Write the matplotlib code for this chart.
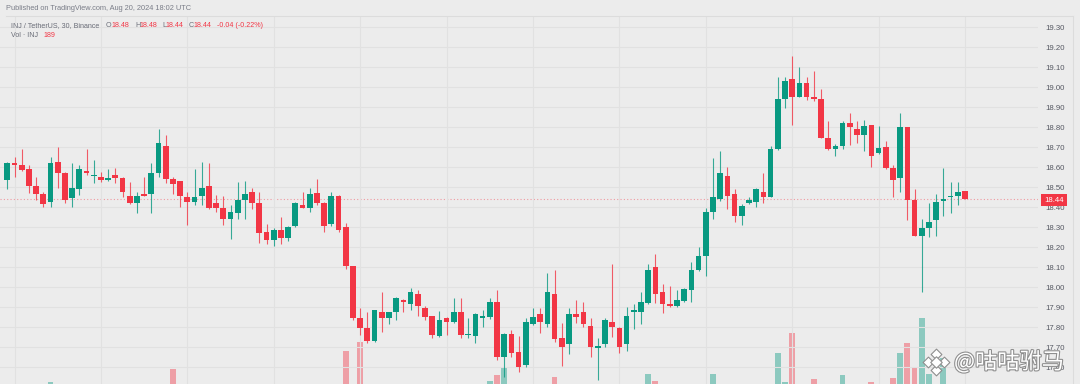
import matplotlib
matplotlib.use("Agg")
import matplotlib.pyplot as plt
import matplotlib.patheffects as pe
from matplotlib.patches import Rectangle
import numpy as np

# ---------------- data (INJ/USDT, 30m, Binance) ----------------
opens = [18.535, 18.618, 18.61, 18.588, 18.507, 18.465, 18.427, 18.627, 18.568, 18.447,
         18.488, 18.58, 18.555, 18.548, 18.537, 18.558, 18.547, 18.457, 18.418, 18.467,
         18.465, 18.568, 18.705, 18.538, 18.528, 18.448, 18.427, 18.455, 18.507, 18.418,
         18.393, 18.338, 18.368, 18.435, 18.477, 18.418, 18.277, 18.235, 18.285, 18.243,
         18.305, 18.41, 18.397, 18.468, 18.418, 18.315, 18.455, 18.298, 18.105, 17.843,
         17.793, 17.732, 17.877, 17.843, 17.877, 17.935, 17.915, 17.963, 17.893, 17.855,
         17.755, 17.843, 17.827, 17.873, 17.76, 17.755, 17.847, 17.852, 17.923, 17.652,
         17.763, 17.673, 17.61, 17.815, 17.865, 17.813, 17.963, 17.743, 17.715, 17.865,
         17.877, 17.805, 17.697, 17.713, 17.827, 17.793, 17.715, 17.877, 17.873, 17.922,
         18.098, 17.973, 17.915, 17.905, 17.932, 17.985, 18.085, 18.155, 18.377, 18.438,
         18.555, 18.465, 18.357, 18.418, 18.427, 18.477, 18.448, 18.688, 18.938, 19.04,
         18.952, 19.018, 18.952, 18.938, 18.747, 18.688, 18.705, 18.818, 18.788, 18.76,
         18.81, 18.668, 18.702, 18.597, 18.547, 18.798, 18.435, 18.255, 18.297, 18.335,
         18.432, 18.448, 18.457, 18.48]
highs = [18.627, 18.648, 18.688, 18.61, 18.548, 18.477, 18.648, 18.698, 18.577, 18.618,
         18.61, 18.688, 18.635, 18.577, 18.588, 18.593, 18.552, 18.527, 18.477, 18.548,
         18.618, 18.788, 18.76, 18.552, 18.528, 18.477, 18.588, 18.627, 18.618, 18.46,
         18.455, 18.41, 18.527, 18.53, 18.493, 18.477, 18.315, 18.293, 18.348, 18.305,
         18.427, 18.477, 18.493, 18.538, 18.427, 18.477, 18.46, 18.322, 18.105, 17.893,
         17.873, 17.885, 17.973, 17.877, 17.952, 17.94, 17.993, 17.985, 17.905, 17.855,
         17.882, 17.848, 17.943, 17.943, 17.843, 17.872, 17.885, 17.943, 17.985, 17.772,
         17.785, 17.755, 17.843, 17.893, 17.893, 18.068, 18.085, 17.818, 17.893, 17.935,
         17.927, 17.843, 17.743, 17.843, 18.113, 17.802, 17.898, 17.915, 17.973, 18.113,
         18.165, 18.015, 18.005, 17.985, 17.993, 18.127, 18.198, 18.393, 18.643, 18.682,
         18.598, 18.488, 18.415, 18.452, 18.493, 18.568, 18.705, 19.048, 19.052, 19.155,
         19.102, 19.048, 19.082, 18.988, 18.83, 18.713, 18.83, 18.868, 18.83, 18.835,
         18.81, 18.807, 18.732, 18.61, 18.868, 18.798, 18.488, 18.338, 18.422, 18.465,
         18.597, 18.527, 18.527, 18.48]
lows = [18.49, 18.548, 18.58, 18.468, 18.435, 18.398, 18.398, 18.493, 18.418, 18.398,
        18.46, 18.56, 18.518, 18.527, 18.532, 18.518, 18.452, 18.415, 18.372, 18.455,
        18.372, 18.552, 18.522, 18.465, 18.398, 18.31, 18.41, 18.41, 18.39, 18.377,
        18.31, 18.238, 18.338, 18.338, 18.388, 18.218, 18.215, 18.205, 18.215, 18.232,
        18.298, 18.393, 18.377, 18.41, 18.277, 18.305, 18.277, 18.088, 17.835, 17.76,
        17.718, 17.727, 17.777, 17.815, 17.835, 17.877, 17.885, 17.855, 17.835, 17.743,
        17.752, 17.76, 17.822, 17.743, 17.743, 17.718, 17.802, 17.838, 17.635, 17.55,
        17.648, 17.577, 17.598, 17.81, 17.768, 17.798, 17.727, 17.605, 17.665, 17.818,
        17.798, 17.648, 17.535, 17.702, 17.752, 17.668, 17.682, 17.788, 17.815, 17.915,
        17.918, 17.868, 17.902, 17.902, 17.927, 17.927, 18.082, 18.055, 18.338, 18.432,
        18.388, 18.327, 18.31, 18.415, 18.402, 18.418, 18.448, 18.685, 18.893, 18.81,
        18.948, 18.935, 18.932, 18.743, 18.685, 18.655, 18.688, 18.71, 18.718, 18.682,
        18.598, 18.665, 18.59, 18.452, 18.477, 18.335, 18.255, 17.977, 18.252, 18.255,
        18.357, 18.368, 18.41, 18.44]
closes = [18.618, 18.608, 18.585, 18.507, 18.465, 18.415, 18.618, 18.568, 18.435, 18.497,
          18.588, 18.568, 18.56, 18.537, 18.547, 18.547, 18.477, 18.418, 18.457, 18.457,
          18.568, 18.718, 18.538, 18.515, 18.457, 18.427, 18.448, 18.497, 18.397, 18.397,
          18.338, 18.377, 18.435, 18.465, 18.418, 18.268, 18.235, 18.285, 18.243, 18.298,
          18.418, 18.397, 18.465, 18.418, 18.305, 18.455, 18.285, 18.105, 17.843, 17.793,
          17.732, 17.885, 17.843, 17.877, 17.947, 17.923, 17.973, 17.905, 17.852, 17.76,
          17.835, 17.827, 17.873, 17.76, 17.763, 17.865, 17.855, 17.923, 17.652, 17.763,
          17.672, 17.602, 17.827, 17.852, 17.827, 17.973, 17.74, 17.702, 17.865, 17.852,
          17.813, 17.702, 17.705, 17.835, 17.802, 17.702, 17.855, 17.885, 17.923, 18.085,
          17.963, 17.915, 17.905, 17.935, 17.988, 18.085, 18.155, 18.377, 18.448, 18.568,
          18.457, 18.357, 18.407, 18.435, 18.488, 18.448, 18.688, 18.938, 19.03, 18.952,
          19.018, 18.952, 18.938, 18.747, 18.688, 18.707, 18.818, 18.798, 18.76, 18.807,
          18.657, 18.697, 18.597, 18.535, 18.798, 18.435, 18.255, 18.297, 18.323, 18.427,
          18.435, 18.457, 18.473, 18.44]
volumes = [1500, 1500, 1500, 1500, 1500, 1500, 2880, 1500, 1500, 1500,
           1500, 1500, 1500, 1500, 1500, 1500, 1500, 1500, 1500, 1500,
           1500, 1500, 1500, 3660, 1500, 1500, 1500, 1500, 1500, 1500,
           1500, 1500, 1500, 1500, 1500, 1500, 1500, 1500, 1500, 1500,
           1500, 1500, 1500, 1500, 1500, 1500, 1500, 4770, 1500, 5300,
           1500, 1500, 1500, 1500, 1500, 1500, 1500, 1500, 1500, 1500,
           1500, 1500, 1500, 1500, 1500, 1500, 1500, 2940, 3300, 3740,
           1500, 1500, 1500, 1500, 1500, 1500, 3200, 1500, 1500, 1500,
           1500, 1500, 1500, 1500, 1500, 1500, 1500, 1500, 1500, 3360,
           2940, 1500, 1500, 1500, 1500, 1500, 1500, 1500, 3360, 1500,
           1500, 1500, 1500, 1500, 1500, 1500, 1500, 4640, 2900, 5800,
           1500, 1500, 3040, 1500, 1500, 1500, 3300, 1500, 1500, 1500,
           2900, 1500, 1500, 3100, 4640, 5240, 3800, 6700, 3380, 1500,
           4300, 1500, 1500, 189]
price_ticks = [17.6, 17.7, 17.8, 17.9, 18.0, 18.1, 18.2, 18.3, 18.4, 18.5,
               18.6, 18.7, 18.8, 18.9, 19.0, 19.1, 19.2, 19.3]
last_price = 18.44
title_line = "Published on TradingView.com, Aug 20, 2024 18:02 UTC"
symbol_text = "INJ / TetherUS, 30, Binance"
ohlc_labels = ["O", "H", "L", "C"]
ohlc_values = ["18.48", "18.48", "18.44", "18.44"]
change_text = "-0.04 (-0.22%)"
watermark = "@咕咕驸马"

# ---------------- style ----------------
W, H = 1080, 384
BG = "#ececec"
GRID = "#e1e1e1"
UP = "#089981"
DOWN = "#f23645"
TXT = "#6a6d78"
HFS = 5.1
plt.rcParams["font.family"] = ["Liberation Sans", "DejaVu Sans"]

fig = plt.figure(figsize=(W / 100, H / 100), dpi=100, facecolor=BG)

def rect(x0, y0, x1, y1):
    return [x0 / W, 1 - y1 / H, (x1 - x0) / W, (y1 - y0) / H]

n = len(opens)
x = np.arange(n)
o = np.array(opens); c = np.array(closes); hi = np.array(highs); lo = np.array(lows)
up = c >= o

area = rect(0, 16, 1038, 384)
# volume axes (below)
axv = fig.add_axes(area)
axv.set_facecolor(BG)
# price axes (on top)
ax = fig.add_axes(area, sharex=axv)
ax.patch.set_alpha(0)

xlim = (-1.014, 143.15)
axv.set_xlim(*xlim)
axv.set_ylim(2760, 24840)
vcol = [UP if u else DOWN for u in up]
axv.bar(x, volumes, width=0.8, color=vcol, alpha=0.42, linewidth=0)
axv.axis("off")

# grid
ax.set_ylim(17.515, 19.355)
ax.set_yticks(price_ticks)
ax.set_xticks(np.arange(1, n + 1, 12))
ax.grid(True, color=GRID, linewidth=0.8, zorder=0)
ax.tick_params(axis="x", length=0, labelbottom=False)
ax.yaxis.tick_right()
ax.tick_params(axis="y", length=0, pad=5, labelsize=5.6, labelcolor="#555862")
ax.set_yticklabels([f"{t:.2f}" for t in price_ticks])
for s in ax.spines.values():
    s.set_visible(False)

# last-price dotted line
ax.axhline(last_price, color=DOWN, alpha=0.45, linestyle=(0, (1, 2)), linewidth=0.8, zorder=1)

# candles
col = np.where(up, UP, DOWN)
ax.vlines(x, lo, hi, colors=col, linewidth=0.8, alpha=0.8, zorder=2)
bh = np.maximum(np.abs(c - o), 0.006)
ax.bar(x, bh, bottom=np.minimum(o, c), width=0.78, color=col, linewidth=0, zorder=3)

# overlay in pixel coordinates for decorations
ov = fig.add_axes([0, 0, 1, 1], zorder=10)
ov.set_xlim(0, W); ov.set_ylim(H, 0); ov.axis("off"); ov.patch.set_alpha(0)

# widget border
ov.plot([6, 1073], [16, 16], color="#dcdcdc", lw=0.8)
ov.plot([1073, 1073], [16, 384], color="#dcdcdc", lw=0.8)

# header
ov.text(6, 9, title_line, fontsize=5.3, color="#7a7d88", va="center", ha="left")
ov.text(11, 25.5, symbol_text, fontsize=HFS, color=TXT, va="center", ha="left")
lab_x = [106, 135, 162, 189]
val_x = [111, 139, 166, 193]
for lx, vx, l, v in zip(lab_x, val_x, ohlc_labels, ohlc_values):
    ov.text(lx, 25.5, l, fontsize=HFS, color=TXT, va="center", ha="left")
    ov.text(vx, 25.5, v, fontsize=HFS, color=DOWN, va="center", ha="left")
ov.text(217, 25.5, change_text, fontsize=HFS, color=DOWN, va="center", ha="left")
ov.text(11, 35.5, "Vol \u00b7 INJ", fontsize=HFS, color=TXT, va="center", ha="left")
ov.text(43, 35.5, "189", fontsize=HFS, color=DOWN, va="center", ha="left")

# last price label
ov.add_patch(Rectangle((1041, 194), 26, 12, facecolor=DOWN, edgecolor="none"))
ov.text(1054, 200.3, f"{last_price:.2f}", fontsize=5.6, color="white", ha="center", va="center")

# watermark
stroke = [pe.withStroke(linewidth=1.6, foreground="#8f8f8f")]
ov.text(954, 362, watermark, fontsize=16, color="white", ha="left", va="center",
        family=["Noto Sans CJK SC", "DejaVu Sans"], path_effects=stroke)
for dx, dy, s in [(0, -8, 30), (-8, 0, 30), (8, 0, 30), (0, 8, 30), (0, 0, 34)]:
    ov.scatter([936 + dx], [362 + dy], marker="D", s=s, facecolor="white",
               edgecolor="#8f8f8f", linewidth=0.8)

fig.savefig("out.png", dpi=100, facecolor=BG)
